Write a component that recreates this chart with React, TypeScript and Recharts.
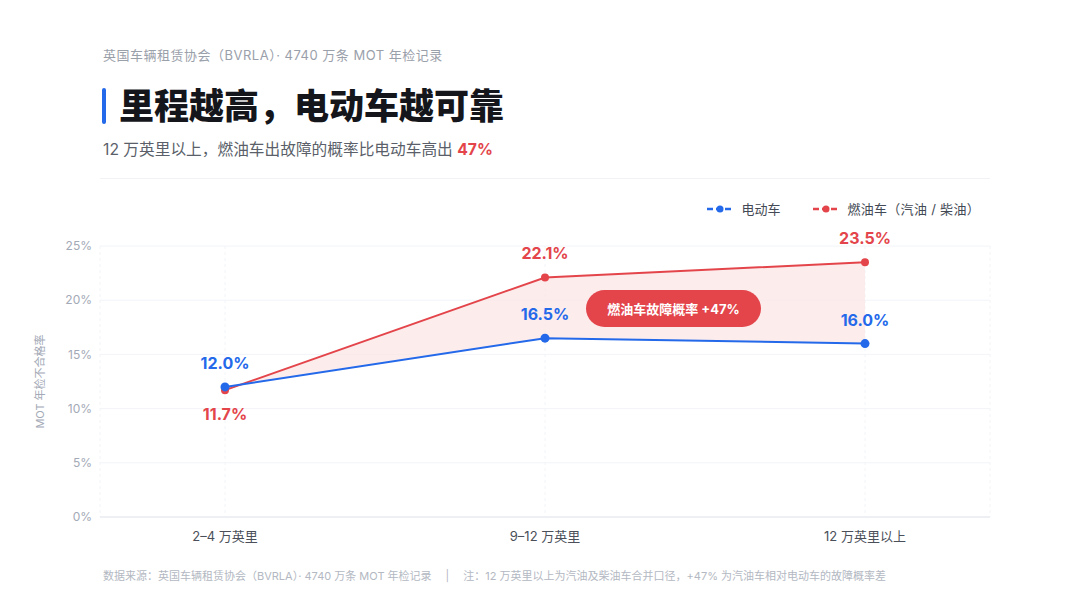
import React from 'react';
import {
  ComposedChart,
  Line,
  Area,
  XAxis,
  YAxis,
  CartesianGrid,
  LabelList,
} from 'recharts';

const categories = ['2–4 万英里', '9–12 万英里', '12 万英里以上'];
const evRates = [12.0, 16.5, 16.0];
const iceRates = [11.7, 22.1, 23.5];
const iceLabelSide = ['bottom', 'top', 'top'];
const yTicks = [0, 5, 10, 15, 20, 25];

const BLUE = '#2469ea';
const RED = '#e3454b';
const FONT = "Inter, 'Noto Sans CJK SC', 'Noto Sans', sans-serif";

const chartData = categories.map((c, i) => ({
  name: c,
  ev: evRates[i],
  ice: iceRates[i],
  gap: [evRates[i], iceRates[i]],
}));

const makeLabel = (color: string, sides: string[] | null) => (props: any) => {
  const { x, y, value, index } = props;
  const side = sides ? sides[index] : 'top';
  const ty = side === 'top' ? y - 18 : y + 17;
  return (
    <text
      x={x}
      y={ty}
      textAnchor="middle"
      dominantBaseline={side === 'top' ? 'auto' : 'hanging'}
      fill={color}
      fontSize={16}
      fontWeight={700}
      fontFamily={FONT}
    >
      {`${Number(value).toFixed(1)}%`}
    </text>
  );
};

const LegendIcon = ({ color }: { color: string }) => (
  <svg width={26} height={10} style={{ marginRight: 8 }}>
    <line x1={0} y1={5} x2={26} y2={5} stroke={color} strokeWidth={2.5} strokeDasharray="6 3" />
    <circle cx={13} cy={5} r={3.5} fill={color} />
  </svg>
);

const App: React.FC = () => {
  return (
    <div
      style={{
        position: 'absolute',
        left: 0,
        top: 0,
        width: 1080,
        height: 607,
        background: '#fff',
        fontFamily: FONT,
        overflow: 'hidden',
      }}
    >
      <div
        style={{
          position: 'absolute',
          left: 103,
          top: 45,
          fontSize: 13,
          letterSpacing: 0.5,
          color: '#9aa0aa',
          whiteSpace: 'nowrap',
        }}
      >
        英国车辆租赁协会（BVRLA）· 4740 万条 MOT 年检记录
      </div>
      <div style={{ position: 'absolute', left: 102, top: 88, width: 4, height: 36, background: BLUE, borderRadius: 2 }} />
      <div
        style={{
          position: 'absolute',
          left: 119,
          top: 84,
          fontSize: 35,
          fontWeight: 900,
          color: '#14161b',
          lineHeight: '44px',
          whiteSpace: 'nowrap',
        }}
      >
        里程越高，电动车越可靠
      </div>
      <div
        style={{
          position: 'absolute',
          left: 103,
          top: 137,
          fontSize: 15.7,
          color: '#5a5f69',
          whiteSpace: 'nowrap',
        }}
      >
        12 万英里以上，燃油车出故障的概率比电动车高出{' '}
        <span style={{ color: RED, fontWeight: 700 }}>47%</span>
      </div>
      <div style={{ position: 'absolute', left: 100, top: 178, width: 890, height: 1, background: '#f1f2f5' }} />

      {/* legend */}
      <div
        style={{
          position: 'absolute',
          right: 100,
          top: 199,
          display: 'flex',
          alignItems: 'center',
          fontSize: 13,
          color: '#444a55',
          whiteSpace: 'nowrap',
        }}
      >
        <LegendIcon color={BLUE} />
        <span style={{ marginRight: 33 }}>电动车</span>
        <LegendIcon color={RED} />
        <span style={{ letterSpacing: 0.3 }}>燃油车（汽油 / 柴油）</span>
      </div>

      <div style={{ position: 'absolute', left: 0, top: 180 }}>
        <ComposedChart
          width={1000}
          height={380}
          data={chartData}
          margin={{ top: 66, right: 10, bottom: 10, left: 20 }}
        >
          <CartesianGrid horizontal={true} vertical={false} stroke="#f2f4f8" />
          <CartesianGrid horizontal={false} vertical={true} stroke="#f2f4f8" strokeDasharray="3 3" />
          <XAxis
            dataKey="name"
            padding={{ left: 125, right: 125 }}
            axisLine={{ stroke: '#e3e6ec' }}
            tickLine={false}
            tickMargin={9}
            height={33}
            tick={{ fill: '#4a4f59', fontSize: 13, fontFamily: FONT }}
          />
          <YAxis
            width={80}
            domain={[0, 25]}
            ticks={yTicks}
            axisLine={false}
            tickLine={false}
            tickFormatter={(v: number) => `${v}%`}
            tick={{ fill: '#a3a9b6', fontSize: 12, fontFamily: FONT }}
            label={{
              content: (p: any) => {
                const vb = p.viewBox;
                const cy = vb.y + vb.height / 2;
                return (
                  <text
                    x={40}
                    y={cy}
                    transform={`rotate(-90, 40, ${cy})`}
                    textAnchor="middle"
                    dominantBaseline="central"
                    fill="#a3a9b6"
                    fontSize={11}
                    fontFamily={FONT}
                  >
                    MOT 年检不合格率
                  </text>
                );
              },
            }}
          />
          <Area
            type="linear"
            dataKey="gap"
            fill="#fbe6e6"
            fillOpacity={0.75}
            stroke="none"
            isAnimationActive={false}
            activeDot={false}
          />
          <Line
            type="linear"
            dataKey="ice"
            stroke={RED}
            strokeWidth={2}
            dot={{ r: 4, fill: RED, stroke: RED, strokeWidth: 0 }}
            isAnimationActive={false}
          >
            <LabelList dataKey="ice" content={makeLabel(RED, iceLabelSide)} />
          </Line>
          <Line
            type="linear"
            dataKey="ev"
            stroke={BLUE}
            strokeWidth={2}
            dot={{ r: 4.5, fill: BLUE, stroke: BLUE, strokeWidth: 0 }}
            isAnimationActive={false}
          >
            <LabelList dataKey="ev" content={makeLabel(BLUE, null)} />
          </Line>
        </ComposedChart>
      </div>

      {/* badge */}
      <div
        style={{
          position: 'absolute',
          left: 586,
          top: 290,
          width: 175,
          height: 37,
          borderRadius: 19,
          background: RED,
          color: '#fff',
          fontSize: 13,
          fontWeight: 700,
          display: 'flex',
          alignItems: 'center',
          justifyContent: 'center',
          whiteSpace: 'nowrap',
        }}
      >
        燃油车故障概率 +47%
      </div>

      <div
        style={{
          position: 'absolute',
          left: 103,
          top: 567,
          fontSize: 11,
          color: '#b3b8c2',
          whiteSpace: 'nowrap',
        }}
      >
        数据来源：英国车辆租赁协会（BVRLA）· 4740 万条 MOT 年检记录
        <span style={{ margin: '0 14px' }}>|</span>
        注：12 万英里以上为汽油及柴油车合并口径，+47% 为汽油车相对电动车的故障概率差
      </div>
    </div>
  );
};

export default App;
